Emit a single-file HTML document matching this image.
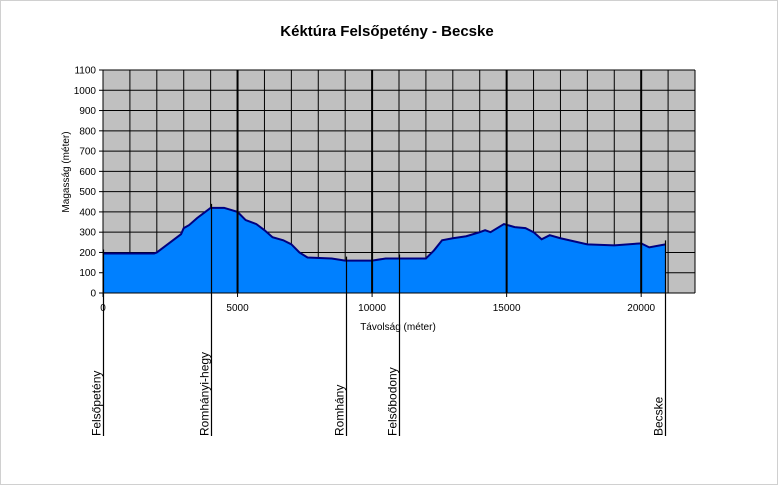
<!DOCTYPE html>
<html><head><meta charset="utf-8"><style>
html,body{margin:0;padding:0;background:#fff}
svg{display:block;font-family:"Liberation Sans",Arial,sans-serif}
</style></head><body>
<svg id="chart" width="778" height="485" viewBox="0 0 778 485" xmlns="http://www.w3.org/2000/svg">
<rect x="0.5" y="0.5" width="777" height="484" fill="#fff" stroke="#d0d0d0"/>
<text x="387" y="36" text-anchor="middle" font-size="15" font-weight="bold">Kéktúra  Felsőpetény - Becske</text>
<rect x="103" y="70" width="592" height="223" fill="#c0c0c0"/>
<g id="grid"></g>
<path id="area" fill="#0080ff" stroke="none"/>
<path id="line" fill="none" stroke="#000080" stroke-width="2"/>
<g id="majors"></g>
<g id="yticks"></g>
<g id="xticks"></g>
<g id="markers"></g>
<text transform="translate(69,172) rotate(-90)" text-anchor="middle" font-size="10">Magasság (méter)</text>
<text x="398" y="330" text-anchor="middle" font-size="10">Távolság (méter)</text>
</svg>
<script>
const distances=[0,1900,2000,2500,2900,3000,3200,3500,3800,4000,4500,5000,5300,5700,6000,6300,6700,7000,7300,7600,8500,9000,10000,10500,12000,12300,12600,13000,13500,14000,14200,14400,14900,15300,15700,16000,16300,16600,17000,18000,19000,20000,20300,20900];
const elevations=[195,195,200,250,290,320,335,370,400,420,420,400,360,340,310,275,260,240,200,175,170,160,160,170,170,210,260,270,280,300,310,300,340,325,320,300,265,285,270,240,235,245,225,240];
const yTicks=[0,100,200,300,400,500,600,700,800,900,1000,1100];
const xTicks=[0,5000,10000,15000,20000];
const placeNames=["Felsőpetény","Romhányi-hegy","Romhány","Felsőbodony","Becske"];
const placeDist=[0,4030,9020,11000,20900];
const X0=103,X1=695,XMAX=22000,Y0=293,Y1=70,YMAX=1100;
const sx=v=>X0+(X1-X0)*v/XMAX;
const sy=v=>Y0-(Y0-Y1)*v/YMAX;
const NS="http://www.w3.org/2000/svg";
function mk(tag,attrs,parent){const e=document.createElementNS(NS,tag);for(const k in attrs)e.setAttribute(k,attrs[k]);parent.appendChild(e);return e;}
const grid=document.getElementById('grid');
for(let v=0;v<=YMAX;v+=100){const l=mk('line',{x1:X0,x2:X1,y1:sy(v),y2:sy(v),stroke:'#000','stroke-width':1},grid);

}
for(let v=0;v<=XMAX;v+=1000){const l=mk('line',{x1:sx(v),x2:sx(v),y1:Y1,y2:Y0,stroke:'#000','stroke-width':1},grid);

}
let d='M'+sx(distances[0])+','+sy(0);
let ld='';
distances.forEach((x,i)=>{d+=' L'+sx(x)+','+sy(elevations[i]);ld+=(i?' L':'M')+sx(x)+','+sy(elevations[i]);});
d+=' L'+sx(distances[distances.length-1])+','+sy(0)+' Z';
document.getElementById('area').setAttribute('d',d);
document.getElementById('line').setAttribute('d',ld);
const majors=document.getElementById('majors');
xTicks.forEach(v=>{if(v===0)return;const l=mk('line',{x1:sx(v),x2:sx(v),y1:Y1,y2:Y0,stroke:'#000','stroke-width':2},majors);

});
const yt=document.getElementById('yticks');
mk('line',{x1:X0,x2:X0,y1:Y1,y2:Y0,stroke:'#000','stroke-width':1},yt);
yTicks.forEach(v=>{mk('line',{x1:X0-4,x2:X0,y1:sy(v),y2:sy(v),stroke:'#000'},yt);
const t=mk('text',{x:X0-7,y:sy(v)+3.5,'text-anchor':'end','font-size':10},yt);t.textContent=v;

});
const xt=document.getElementById('xticks');
mk('line',{x1:X0,x2:X1,y1:Y0,y2:Y0,stroke:'#000','stroke-width':1},xt);
xTicks.forEach(v=>{mk('line',{x1:sx(v),x2:sx(v),y1:Y0,y2:Y0+4,stroke:'#000'},xt);
const t=mk('text',{x:sx(v),y:Y0+18,'text-anchor':'middle','font-size':10},xt);t.textContent=v;

});
const mg=document.getElementById('markers');
function elevAt(x){for(let i=1;i<distances.length;i++){if(x<=distances[i]){const a=distances[i-1],b=distances[i];return elevations[i-1]+(elevations[i]-elevations[i-1])*(x-a)/(b-a||1);}}return elevations[elevations.length-1];}
placeNames.forEach((n,i)=>{const x=Math.round(sx(placeDist[i]))+0.5;
const l=mk('line',{x1:x,x2:x,y1:sy(elevAt(placeDist[i]))-4,y2:436,stroke:'#000','stroke-width':1.2},mg);


const t=mk('text',{transform:'translate('+(x-3)+',436) rotate(-90)','font-size':12},mg);t.textContent=n;

});
</script>
</body></html>
